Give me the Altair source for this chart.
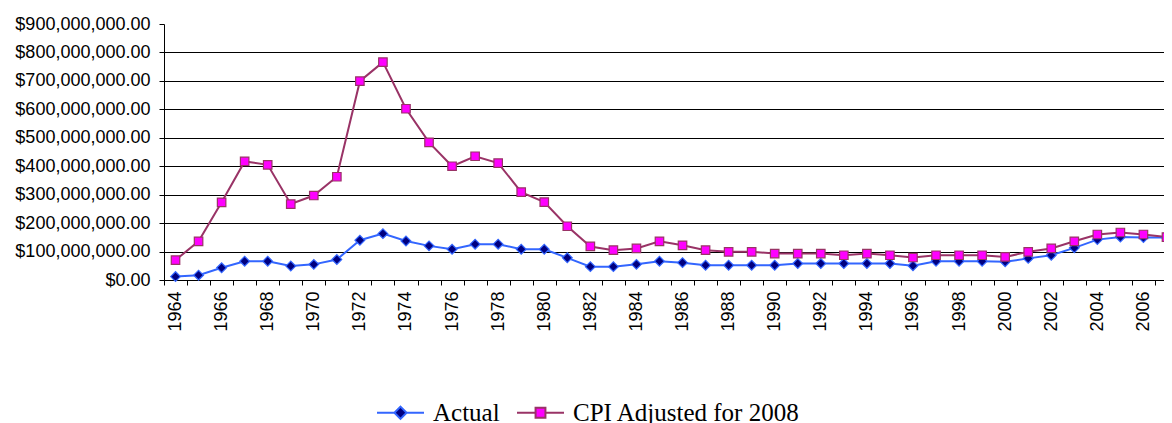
import altair as alt
import pandas as pd

# ---- data (values in millions of dollars) ----
years = list(range(1964, 2008))
actual_m = [12, 17, 43, 66, 66, 49, 55, 72, 140, 163,
            137, 120, 108, 126, 126, 108, 108, 78, 47, 47, 55, 66, 61, 52, 52, 52, 52,
            58, 58, 58, 58, 58, 50, 66, 66, 66, 64, 76, 87, 113, 142, 151, 149, 149]
cpi_m = [70, 136, 273, 417, 405, 267, 297, 363, 699, 766,
         602, 484, 400, 435, 411, 309, 274, 189, 118, 105, 111, 136, 122, 105, 99, 99, 93,
         93, 93, 87, 93, 87, 79, 87, 87, 87, 81, 99, 111, 136, 160, 167, 160, 151]
series_names = ["Actual", "CPI Adjusted for 2008"]
y_ticks = [0, 100000000, 200000000, 300000000, 400000000, 500000000,
           600000000, 700000000, 800000000, 900000000]

rows = []
for yr, a, c in zip(years, actual_m, cpi_m):
    rows.append({"year": yr, "series": series_names[0], "value": a * 1e6})
    rows.append({"year": yr, "series": series_names[1], "value": c * 1e6})
df = pd.DataFrame(rows)

line_colors = ["#3366FF", "#993366"]
fill_colors = ["#000080", "#FF00FF"]
legend_paths = [
    "M-1,0H-0.26M0.26,0H1M0,-0.26L0.26,0L0,0.26L-0.26,0Z",
    "M-1,0H-0.21M0.21,0H1M-0.21,-0.21H0.21V0.21H-0.21Z",
]

x_enc = alt.X(
    "year:O",
    scale=alt.Scale(type="band", paddingInner=0, paddingOuter=0, domain=years),
    bandPosition=0.5,
    axis=alt.Axis(
        title=None, labelAngle=-90, tickBand="extent",
        labelExpr="datum.value % 2 == 0 ? '' + datum.value : ''",
        labelFont="Liberation Sans", labelFontSize=18, labelColor="#000000",
        labelPadding=6, labelOverlap=False, tickSize=5, tickColor="#000000",
        domainColor="#000000", grid=False,
    ),
)
y_enc = alt.Y(
    "value:Q",
    scale=alt.Scale(domain=[0, 900000000], nice=False),
    axis=alt.Axis(
        title=None, values=y_ticks, format="$,.2f",
        labelFont="Liberation Sans", labelFontSize=18, labelColor="#000000",
        labelPadding=9, tickSize=5, tickColor="#000000", domainColor="#000000",
        grid=True, gridColor="#000000", gridWidth=1,
        gridOpacity={"condition": {"test": "datum.value >= 900000000", "value": 0}, "value": 1},
    ),
)

base = alt.Chart(df).encode(x=x_enc, y=y_enc)

lines = base.mark_line(strokeWidth=2).encode(
    stroke=alt.Stroke("series:N", scale=alt.Scale(domain=series_names, range=line_colors), legend=None)
)

points = base.mark_point(filled=True, opacity=1, strokeWidth=1.2).encode(
    shape=alt.Shape("series:N", scale=alt.Scale(domain=series_names, range=["diamond", "square"]), legend=None),
    fill=alt.Fill("series:N", scale=alt.Scale(domain=series_names, range=fill_colors), legend=None),
    stroke=alt.Stroke("series:N", scale=alt.Scale(domain=series_names, range=line_colors), legend=None),
    size=alt.Size("series:N", scale=alt.Scale(domain=series_names, range=[95, 72]), legend=None),
)

leg = alt.Legend(
    title=None, orient="none", legendX=212, legendY=364, direction="horizontal",
    symbolSize=2209, symbolStrokeWidth=2, symbolOpacity=1, padding=0,
    labelFont="Liberation Serif", labelFontSize=25, labelColor="#000000",
    labelOffset=8, columnPadding=13, labelLimit=500,
)
legend_layer = base.mark_point(filled=True, opacity=0).encode(
    shape=alt.Shape("series:N", scale=alt.Scale(domain=series_names, range=legend_paths), legend=leg),
    fill=alt.Fill("series:N", scale=alt.Scale(domain=series_names, range=fill_colors), legend=leg),
    stroke=alt.Stroke("series:N", scale=alt.Scale(domain=series_names, range=line_colors), legend=leg),
)

chart = (
    alt.layer(lines, points, legend_layer)
    .resolve_scale(shape="independent", fill="independent", stroke="independent", size="independent")
    .properties(
        width=1014, height=256,
        padding={"left": 156, "top": 16, "right": -14, "bottom": 150},
        autosize=alt.AutoSizeParams(type="none"),
        background="#FFFFFF",
    )
    .configure_view(strokeWidth=0)
)

chart.save("out.html", embed_options={"renderer": "svg", "actions": False})
